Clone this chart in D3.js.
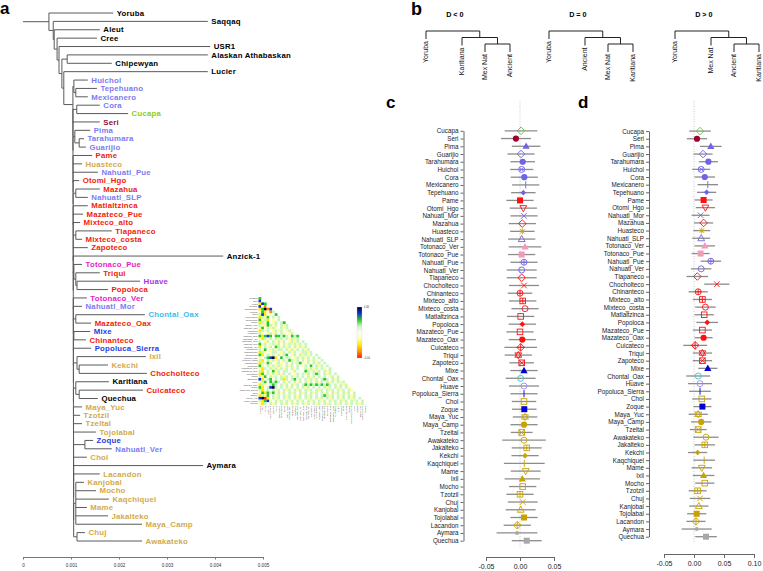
<!DOCTYPE html>
<html><head><meta charset="utf-8">
<script src="https://cdn.jsdelivr.net/npm/d3@7"></script>
<style>body{margin:0;background:#fff}svg{display:block}</style>
</head><body>
<svg id="chart" width="763" height="571"></svg>
<script>
// ---------------- DATA ----------------
// Panel a: tree; depths are cumulative distances in units of 1e-4
const T = (name, depth, group) => ({name, depth, group});
const N = (depth, ...children) => ({depth, children});
const mexClades = [
  N(10.6, T("Huichol",13.5,"ua"), N(11.0, T("Tepehuano",15.4,"ua"), T("Mexicanero",13.5,"ua"))),
  N(11.2, T("Cora",16.0,"ua"), T("Cucapa",21.9,"cu")),
  T("Seri",16.0,"se"),
  N(10.8, T("Pima",14.0,"ua"), N(11.7, T("Tarahumara",12.7,"ua"), T("Guarijio",13.1,"ua"))),
  T("Pame",14.4,"om"),
  T("Huasteco",12.3,"my"),
  T("Nahuatl_Pue",15.6,"ua"),
  T("Otomi_Hgo",11.7,"om"),
  N(11.0, T("Mazahua",16.0,"om"), T("Nahuatl_SLP",13.5,"ua")),
  T("Matlaltzinca",13.5,"om"),
  T("Mazateco_Pue",12.5,"om"),
  T("Mixteco_alto",11.9,"om"),
  N(11.0, T("Tlapaneco",18.5,"om"), T("Mixteco_costa",12.3,"om")),
  T("Zapoteco",13.5,"om"),
  T("Anzick-1",41.7,"k"),
  N(10.6, T("Totonaco_Pue",12.3,"to"), N(11.0, T("Triqui",16.0,"om"), N(11.25, T("Huave",24.4,"hv"), T("Popoloca",17.7,"om")))),
  T("Totonaco_Ver",13.3,"to"),
  T("Nahuatl_Mor",12.3,"ua"),
  N(11.0, T("Chontal_Oax",25.4,"co"), T("Mazateco_Oax",14.2,"om")),
  N(10.6, T("Mixe",14.0,"mz"), T("Chinanteco",13.1,"om")),
  T("Popoluca_Sierra",14.2,"mz"),
  N(11.25, T("Ixil",25.6,"my"), N(11.7, T("Kekchi",17.7,"my"), T("Chocholteco",25.8,"om"))),
  N(11.0, T("Karitiana",17.9,"k"), N(11.7, T("Cuicateco",25.0,"om"), T("Quechua",15.6,"k"))),
  T("Maya_Yuc",12.3,"my"),
  T("Tzotzil",11.9,"my"),
  T("Tzeltal",12.3,"my"),
  T("Tojolabal",15.2,"my"),
  N(12.9, T("Zoque",14.6,"mz"), T("Nahuatl_Ver",18.5,"ua")),
  T("Chol",13.3,"my"),
  T("Aymara",37.5,"k"),
  T("Lacandon",16.0,"my"),
  N(11.0, T("Kanjobal",12.7,"my"), T("Mocho",15.2,"my"), T("Kaqchiquel",17.9,"my"), T("Mame",13.3,"my"), T("Jakalteko",17.7,"my"), T("Maya_Camp",24.8,"my")),
  N(11.25, T("Chuj",12.9,"my"), T("Awakateko",24.8,"my"))
];
function ladder(items, d0, step) {
  let node = items[items.length - 1];
  for (let i = items.length - 2; i >= 0; i--) node = {depth: d0 + i * step, children: [items[i], node]};
  return node;
}
const treeRoot = N(0,
  N(5.4, T("Yoruba",18.8,"k"),
    N(6.3, T("Saqqaq",38.5,"k"),
      N(6.5, T("Aleut",16.0,"k"),
        N(7.1, T("Cree",15.4,"k"),
          N(7.5, T("USR1",39.0,"k"),
            N(8.1,
              N(9.2, T("Alaskan Athabaskan",38.5,"k"), T("Chipewyan",18.5,"k")),
              N(8.5, T("Lucier",38.5,"k"), ladder(mexClades, 10.4, 0.005)))))))));
const treeTicks = [0, 0.001, 0.002, 0.003, 0.004, 0.005];

// Heatmap (levels 0..8 : red .. white(4) .. navy), lower triangle
const heatRows = [
"6","74","276","7314","26817","362415","5724346","25364545","635243454","2536435456",
"53365354535","364535345354","2535435354353","53435354534354","626764665654656","3253545354535354",
"54354535354353545","635435354535353545","2453546535354535354","53643535545353545354",
"253435543545354355354","6245354535643545353545","34567824645543535354545","524535354536535454535345",
"2536543534545356435453545","63453535345354543546453545","325453535354535445353545345",
"5245463545543544465353545354","26353535354543545354565453545","536453545354535454535454543545",
"7245645452545645453535456545354","35646565453545354535453545354535","253456545354535456565656565454535",
"6245785454535454535454545354535453","52354535453545354535453545354535453","362656453545354535453545354535453545",
"2536453545354535453545456535453545354","78024535453545354535453545354535453545",
"526734535453545354535453545354535453545","3254535453545354535453545354535453545354"];
const heatLevels = [0,1,2,3,4,5,6,7,8];
const heatLegend = ["0.06","-0.04"];

// Panel b
const bTitles = ["D < 0", "D = 0", "D > 0"];
const bLeaves = [["Yoruba","Karitiana","Mex Nat","Ancient"],
                 ["Yoruba","Ancient","Mex Nat","Karitiana"],
                 ["Yoruba","Mex Nat","Ancient","Karitiana"]];

// Panels c, d
const dPops = ["Cucapa","Seri","Pima","Guarijio","Tarahumara","Huichol","Cora","Mexicanero","Tepehuano","Pame",
"Otomi_Hgo","Nahuatl_Mor","Mazahua","Huasteco","Nahuatl_SLP","Totonaco_Ver","Totonaco_Pue","Nahuatl_Pue","Nahuatl_Ver","Tlapaneco",
"Chocholteco","Chinanteco","Mixteco_alto","Mixteco_costa","Matlaltzinca","Popoloca","Mazateco_Pue","Mazateco_Oax","Cuicateco","Triqui",
"Zapoteco","Mixe","Chontal_Oax","Huave","Popoluca_Sierra","Chol","Zoque","Maya_Yuc","Maya_Camp","Tzeltal",
"Awakateko","Jakalteko","Kekchi","Kaqchiquel","Mame","Ixil","Mocho","Tzotzil","Chuj","Kanjobal",
"Tojolabal","Lacandon","Aymara","Quechua"];
const popShape = ["D","c","T","D","c","ox","c","|","d","S",
"v","x","D","*","^","T","S","o+","o","D",
"x","o+","s+","o","s","d","s","c","D+","star",
"sx","T","o","o","|","s","S","star","c","sx",
"o","s+","d","|","v","T","s","s+","x","^",
"S","D+","dot","S"];
const popGroup = ["cu","se","ua","ua","ua","ua","ua","ua","ua","om",
"om","ua","om","my","ua","to","to","ua","ua","om",
"om","om","om","om","om","om","om","om","om","om",
"om","mz","co","hv","mz","my","mz","my","my","my",
"my","my","my","my","my","my","my","my","my","my",
"my","my","gr","gr"];
const Dc = [0.0015,-0.006,0.009,0.0015,0.004,0.0025,0.0063,0.0084,0.0049,0.0,
0.0049,0.0059,0.0034,0.0034,0.0025,0.0074,0.0025,0.0059,0.0025,0.0025,
0.0059,0.0,0.004,0.0074,0.001,0.0034,0.0,0.0034,0.001,-0.0025,
0.0025,0.0059,0.001,0.0059,0.0059,0.0059,0.0063,0.0074,0.0059,0.0025,
0.0059,0.0099,0.0074,0.0063,0.0084,0.0034,0.004,0.0,0.004,0.001,
0.0059,-0.004,-0.0044,0.0099];
const CIc = [.024,.022,.021,.02,.018,.017,.02,.02,.018,.02,
.02,.02,.02,.018,.02,.024,.02,.02,.022,.022,
.022,.018,.02,.02,.02,.02,.02,.02,.024,.02,
.018,.02,.022,.022,.02,.018,.018,.018,.02,.016,
.032,.022,.02,.03,.022,.026,.02,.02,.022,.022,
.02,.02,.03,.022];
const Dd = [0.010,0.005,0.028,0.015,0.024,0.012,0.018,0.023,0.021,0.016,
0.019,0.011,0.016,0.013,0.012,0.018,0.011,0.028,0.012,0.0055,
0.038,0.007,0.014,0.019,0.017,0.022,0.014,0.016,0.002,0.014,
0.014,0.023,0.007,0.010,0.010,0.013,0.014,0.007,0.012,0.007,
0.020,0.018,0.006,0.017,0.013,0.016,0.018,0.006,0.010,0.008,
0.0045,0.0033,0.0045,0.020];
const CId = [.018,.017,.018,.016,.016,.015,.017,.017,.016,.015,
.016,.015,.016,.014,.015,.017,.015,.017,.017,.018,
.021,.016,.016,.017,.016,.018,.016,.015,.02,.016,
.016,.016,.02,.02,.018,.016,.015,.016,.017,.014,
.021,.017,.016,.018,.017,.018,.016,.015,.017,.016,
.016,.016,.025,.018];
const cTicks = [-0.05, 0, 0.05];
const dTicks = [-0.05, 0, 0.05, 0.10];

// ---------------- STYLE ----------------
const labelColor = {k:"#000000", ua:"#7b7bf2", cu:"#8fcc22", se:"#8e1038", om:"#f21c0a", my:"#d2aa4c", to:"#e822c8", hv:"#a833e8", co:"#3dbbee", mz:"#2a3be0"};
const markColor = {cu:"#66c53a", se:"#a0002c", ua:"#6f63e6", om:"#ff1010", my:"#c9a200", to:"#f39ab8", mz:"#0000d8", co:"#30c8d8", hv:"#9a8ff0", gr:"#a8a8a8"};
const FONT = '"Liberation Sans", Arial, Helvetica, sans-serif';
const svg = d3.select("#chart").style("font-family", FONT);

// panel letters
[["a",0,14,17],["b",411,15,18],["c",386,108,17],["d",578,108,17]].forEach(([t,x,y,s]) =>
  svg.append("text").attr("x",x).attr("y",y).attr("font-size",s).attr("font-weight","bold").text(t));

// ---------------- PANEL A ----------------
const treeX = d3.scaleLinear().domain([0, 0.005]).range([23, 263]);
const dx = d => treeX(d * 1e-4);
const h = d3.hierarchy(treeRoot, d => d.children);
const tips = h.leaves();
const treeY = d3.scalePoint().domain(tips.map(d => d.data.name)).range([13, 541]);
h.eachAfter(n => {
  n.py = n.children ? (n.children[0].py + n.children[n.children.length - 1].py) / 2 : treeY(n.data.name);
});
const ga = svg.append("g").attr("stroke", "#5a5a5a").attr("stroke-width", 1).attr("fill", "none");
const segs = [];
h.descendants().forEach(n => {
  if (n.parent) segs.push([dx(n.parent.data.depth), n.py, dx(n.data.depth), n.py]);
  if (n.children && n.children.length > 1)
    segs.push([dx(n.data.depth), n.children[0].py, dx(n.data.depth), n.children[n.children.length - 1].py]);
});
ga.selectAll("line").data(segs).join("line")
  .attr("x1", d => d[0]).attr("y1", d => d[1]).attr("x2", d => d[2]).attr("y2", d => d[3]);
svg.append("g").selectAll("text").data(tips).join("text")
  .attr("x", d => dx(d.data.depth) + 3.5).attr("y", d => d.py).attr("dy", "0.35em")
  .attr("font-size", 7.8).attr("font-weight", "bold").attr("letter-spacing", 0.2)
  .attr("fill", d => labelColor[d.data.group]).text(d => d.data.name);
const axA = svg.append("g").attr("transform", "translate(0,557)")
  .call(d3.axisBottom(treeX).tickValues(treeTicks).tickSize(2.5).tickSizeOuter(0)
    .tickFormat(d => d === 0 ? "0" : d.toFixed(3)));
axA.select(".domain").attr("stroke", "#777");
axA.selectAll(".tick line").attr("stroke", "#777");
axA.selectAll("text").attr("font-size", 4.6).attr("fill", "#333").attr("dy", "0.9em");

// ---------------- HEATMAP ----------------
const hmX0 = 258.5, hmY0 = 297, hmSize = 108;
const nH = heatRows.length;
const hb = d3.scaleBand().domain(d3.range(nH)).range([0, hmSize]);
const heatColor = d3.scaleLinear().domain(heatLevels)
  .range(["#ff1a00","#ff8c00","#ffe800","#ffffa0","#fbfff8","#c8f5bc","#28c828","#1030d8","#00003a"]);
const cells = [];
heatRows.forEach((row, i) => { for (let j = 0; j <= i; j++) cells.push({i, j, v: +(row[j] || "4")}); });
svg.append("g").selectAll("rect").data(cells).join("rect")
  .attr("x", d => hmX0 + hb(d.j)).attr("y", d => hmY0 + hb(d.i))
  .attr("width", hb.bandwidth() + 0.1).attr("height", hb.bandwidth() + 0.1)
  .attr("fill", d => heatColor(d.v));
const heatNames = dPops.slice(0, nH);
svg.append("g").selectAll("text").data(heatNames).join("text")
  .attr("x", hmX0 - 1).attr("y", (d, i) => hmY0 + hb(i) + hb.bandwidth() / 2).attr("dy", "0.35em")
  .attr("text-anchor", "end").attr("font-size", 2.4).attr("fill", "#444").text(d => d);
svg.append("g").selectAll("text").data(heatNames).join("text")
  .attr("transform", (d, i) => `translate(${hmX0 + hb(i) + hb.bandwidth() / 2},${hmY0 + hmSize + 1}) rotate(-90)`)
  .attr("dy", "0.35em").attr("text-anchor", "end").attr("font-size", 2.4).attr("fill", "#444").text(d => d);
const grad = svg.append("defs").append("linearGradient").attr("id", "hg")
  .attr("x1", 0).attr("y1", 0).attr("x2", 0).attr("y2", 1);
heatLevels.slice().reverse().forEach((v, k) =>
  grad.append("stop").attr("offset", k / 8).attr("stop-color", heatColor(v)));
svg.append("rect").attr("x", 357).attr("y", 307).attr("width", 5).attr("height", 51)
  .attr("fill", "url(#hg)").attr("stroke", "#ccc").attr("stroke-width", 0.3);
heatLegend.forEach((t, k) => svg.append("text").attr("x", 364).attr("y", k ? 359 : 308)
  .attr("font-size", 2.6).attr("fill", "#444").text(t));

// ---------------- PANEL B ----------------
const bX0 = [426, 549, 675], bOff = [0, 36, 59, 84];
const bY = d3.scaleLinear().domain([1, 3]).range([44, 31]);
const hang = 8;
bTitles.forEach((title, k) => {
  const g = svg.append("g");
  const lx = bOff.map(o => bX0[k] + o);
  const n3 = (lx[2] + lx[3]) / 2, n2 = (lx[1] + n3) / 2, n1 = (lx[0] + n2) / 2;
  g.append("text").attr("x", n1 + 2).attr("y", 17).attr("text-anchor", "middle")
    .attr("font-size", 7.2).attr("font-weight", "bold").text(title);
  const lines = [
    [lx[0], bY(3), n2, bY(3)], [lx[0], bY(3), lx[0], bY(3) + hang], [n2, bY(3), n2, bY(2)],
    [lx[1], bY(2), n3, bY(2)], [lx[1], bY(2), lx[1], bY(2) + hang], [n3, bY(2), n3, bY(1)],
    [lx[2], bY(1), lx[3], bY(1)], [lx[2], bY(1), lx[2], bY(1) + hang], [lx[3], bY(1), lx[3], bY(1) + hang]];
  g.selectAll("line").data(lines).join("line")
    .attr("x1", d => d[0]).attr("y1", d => d[1]).attr("x2", d => d[2]).attr("y2", d => d[3])
    .attr("stroke", "#222").attr("stroke-width", 1);
  const ends = [bY(3), bY(2), bY(1), bY(1)].map(v => v + hang + 2);
  g.selectAll("text.leaf").data(bLeaves[k]).join("text").attr("class", "leaf")
    .attr("transform", (d, i) => `translate(${lx[i]},${ends[i]}) rotate(-90)`)
    .attr("dy", "0.35em").attr("text-anchor", "end").attr("font-size", 7).attr("fill", "#111").text(d => d);
});

// ---------------- PANELS C, D ----------------
function marker(g, shape, x, y, col) {
  const s = g.append("g").attr("stroke", col).attr("fill", "none").attr("stroke-width", 0.9);
  const P = d => s.append("path").attr("d", d);
  const r = 3;
  switch (shape) {
    case "c": s.append("circle").attr("cx", x).attr("cy", y).attr("r", 3.1).attr("fill", col).attr("stroke", "none"); break;
    case "dot": s.append("circle").attr("cx", x).attr("cy", y).attr("r", 2).attr("fill", col).attr("stroke", "none"); break;
    case "o": s.append("circle").attr("cx", x).attr("cy", y).attr("r", r); break;
    case "o+": s.append("circle").attr("cx", x).attr("cy", y).attr("r", r); P(`M${x-r},${y}H${x+r}M${x},${y-r}V${y+r}`); break;
    case "ox": s.append("circle").attr("cx", x).attr("cy", y).attr("r", r); P(`M${x-2.1},${y-2.1}L${x+2.1},${y+2.1}M${x-2.1},${y+2.1}L${x+2.1},${y-2.1}`); break;
    case "S": s.append("rect").attr("x", x-3).attr("y", y-3).attr("width", 6).attr("height", 6).attr("fill", col).attr("stroke", "none"); break;
    case "s": s.append("rect").attr("x", x-2.8).attr("y", y-2.8).attr("width", 5.6).attr("height", 5.6); break;
    case "s+": s.append("rect").attr("x", x-2.8).attr("y", y-2.8).attr("width", 5.6).attr("height", 5.6); P(`M${x-2.8},${y}H${x+2.8}M${x},${y-2.8}V${y+2.8}`); break;
    case "sx": s.append("rect").attr("x", x-2.8).attr("y", y-2.8).attr("width", 5.6).attr("height", 5.6); P(`M${x-2.8},${y-2.8}L${x+2.8},${y+2.8}M${x-2.8},${y+2.8}L${x+2.8},${y-2.8}`); break;
    case "T": P(`M${x},${y-3.8}L${x+3.6},${y+2.6}L${x-3.6},${y+2.6}Z`).attr("fill", col).attr("stroke", "none"); break;
    case "^": P(`M${x},${y-3.6}L${x+3.4},${y+2.5}L${x-3.4},${y+2.5}Z`); break;
    case "v": P(`M${x},${y+3.6}L${x+3.4},${y-2.5}L${x-3.4},${y-2.5}Z`); break;
    case "star": P(`M${x},${y-3.6}L${x+3.4},${y+2.2}L${x-3.4},${y+2.2}ZM${x},${y+3.6}L${x+3.4},${y-2.2}L${x-3.4},${y-2.2}Z`); break;
    case "D": P(`M${x},${y-3.8}L${x+3.8},${y}L${x},${y+3.8}L${x-3.8},${y}Z`); break;
    case "D+": P(`M${x},${y-3.8}L${x+3.8},${y}L${x},${y+3.8}L${x-3.8},${y}ZM${x-3.8},${y}H${x+3.8}M${x},${y-3.8}V${y+3.8}`); break;
    case "d": P(`M${x},${y-2.8}L${x+2.8},${y}L${x},${y+2.8}L${x-2.8},${y}Z`).attr("fill", col).attr("stroke", "none"); break;
    case "x": P(`M${x-2.8},${y-2.8}L${x+2.8},${y+2.8}M${x-2.8},${y+2.8}L${x+2.8},${y-2.8}`); break;
    case "*": P(`M${x-3},${y}H${x+3}M${x},${y-3}V${y+3}M${x-2.2},${y-2.2}L${x+2.2},${y+2.2}M${x-2.2},${y+2.2}L${x+2.2},${y-2.2}`); break;
    case "|": P(`M${x},${y-3.6}V${y+3.6}`); break;
  }
}
function dotPanel(vals, ci, ticks, xRange, yRange, axisX, axisY, zeroTop) {
  const x = d3.scaleLinear().domain([ticks[0], ticks[ticks.length - 1]]).range(xRange);
  const y = d3.scalePoint().domain(dPops).range(yRange);
  const g = svg.append("g");
  g.append("line").attr("x1", x(0)).attr("x2", x(0)).attr("y1", zeroTop).attr("y2", yRange[1] + 7)
    .attr("stroke", "#bbb").attr("stroke-width", 0.8).attr("stroke-dasharray", "1,1.5");
  g.selectAll("line.ci").data(dPops).join("line").attr("class", "ci")
    .attr("x1", (d, i) => x(vals[i] - ci[i])).attr("x2", (d, i) => x(vals[i] + ci[i]))
    .attr("y1", d => y(d)).attr("y2", d => y(d)).attr("stroke", "#8c8c8c").attr("stroke-width", 1.3);
  dPops.forEach((p, i) => marker(g, popShape[i], x(vals[i]), y(p), markColor[popGroup[i]]));
  const ay = g.append("g").attr("transform", `translate(${axisX},0)`)
    .call(d3.axisLeft(y).tickSize(3).tickSizeOuter(0).tickPadding(2));
  ay.select(".domain").attr("stroke", "#666");
  ay.selectAll(".tick line").attr("stroke", "#666");
  ay.selectAll("text").attr("font-size", 6.3).attr("fill", "#222").attr("font-family", FONT);
  const ax = g.append("g").attr("transform", `translate(0,${axisY})`)
    .call(d3.axisBottom(x).tickValues(ticks).tickSize(4).tickSizeOuter(0).tickPadding(3)
      .tickFormat(d => d.toFixed(2)));
  ax.select(".domain").attr("stroke", "#666");
  ax.selectAll(".tick line").attr("stroke", "#666");
  ax.selectAll("text").attr("font-size", 7).attr("fill", "#222").attr("font-family", FONT);
}
dotPanel(Dc, CIc, cTicks, [486, 554], [130.8, 540.7], 463.5, 557, 101);
dotPanel(Dd, CId, dTicks, [664, 754], [131.1, 536.7], 649, 554, 101);
</script>
</body></html>
